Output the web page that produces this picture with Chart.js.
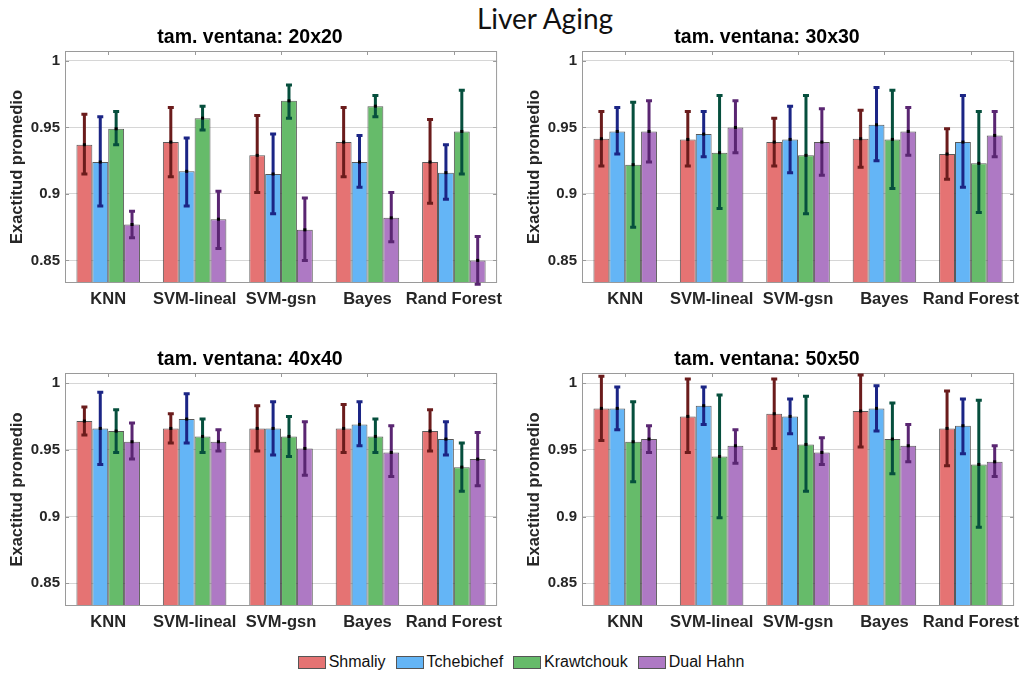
<!DOCTYPE html>
<html>
<head>
<meta charset="utf-8">
<script src="https://cdn.jsdelivr.net/npm/chart.js@4.4.1/dist/chart.umd.min.js"></script>
<style>
  body { margin: 0; background: #fff; width: 1029px; height: 673px; position: relative; overflow: hidden; }
  canvas { position: absolute; }
  #title { position: absolute; left: 0; top: 1px; width: 1090px; text-align: center; font-family: Lato, "Open Sans", sans-serif; font-size: 28px; color: #111; }
  #legend { position: absolute; left: 0; top: 653px; width: 1042px; display: flex; justify-content: center; gap: 10px; font-family: "Liberation Sans", Arial, sans-serif; font-size: 16px; color: #111; }
  .item { display: flex; align-items: center; gap: 3px; }
  .box { width: 26px; height: 11px; border: 1px solid #555; }
</style>
</head>
<body>
<div id="title">Liver Aging</div>
<canvas id="c20" width="510" height="299" style="left:0;top:24px"></canvas>
<canvas id="c30" width="510" height="299" style="left:517px;top:24px"></canvas>
<canvas id="c40" width="510" height="300" style="left:0;top:346px"></canvas>
<canvas id="c50" width="510" height="300" style="left:517px;top:346px"></canvas>
<div id="legend"></div>
<script>
const categories = ['KNN', 'SVM-lineal', 'SVM-gsn', 'Bayes', 'Rand Forest'];
const seriesNames = ['Shmaliy', 'Tchebichef', 'Krawtchouk', 'Dual Hahn'];
const yTicks = [0.85, 0.9, 0.95, 1];

// rows: Shmaliy, Tchebichef, Krawtchouk, Dual Hahn
const mean20 = [
  [0.937, 0.939, 0.929, 0.939, 0.924],
  [0.924, 0.917, 0.915, 0.924, 0.916],
  [0.949, 0.957, 0.970, 0.966, 0.947],
  [0.877, 0.881, 0.873, 0.882, 0.850]
];
const low20 = [
  [0.915, 0.913, 0.901, 0.913, 0.893],
  [0.891, 0.891, 0.885, 0.905, 0.896],
  [0.937, 0.948, 0.957, 0.958, 0.915],
  [0.867, 0.859, 0.850, 0.864, 0.832]
];
const high20 = [
  [0.960, 0.965, 0.959, 0.965, 0.956],
  [0.958, 0.942, 0.945, 0.944, 0.937],
  [0.962, 0.966, 0.982, 0.974, 0.978],
  [0.887, 0.902, 0.897, 0.901, 0.868]
];

const mean30 = [
  [0.9415, 0.941, 0.939, 0.9415, 0.930],
  [0.947, 0.945, 0.941, 0.952, 0.939],
  [0.922, 0.931, 0.929, 0.941, 0.923],
  [0.947, 0.950, 0.939, 0.947, 0.944]
];
const low30 = [
  [0.921, 0.921, 0.921, 0.920, 0.911],
  [0.930, 0.928, 0.916, 0.925, 0.905],
  [0.875, 0.889, 0.885, 0.904, 0.886],
  [0.924, 0.931, 0.914, 0.929, 0.928]
];
const high30 = [
  [0.962, 0.962, 0.957, 0.963, 0.949],
  [0.965, 0.962, 0.966, 0.980, 0.974],
  [0.969, 0.974, 0.974, 0.978, 0.962],
  [0.970, 0.970, 0.964, 0.965, 0.962]
];

const mean40 = [
  [0.9715, 0.966, 0.966, 0.966, 0.964],
  [0.966, 0.973, 0.966, 0.969, 0.958],
  [0.964, 0.960, 0.960, 0.960, 0.937],
  [0.956, 0.956, 0.951, 0.948, 0.943]
];
const low40 = [
  [0.961, 0.955, 0.949, 0.948, 0.949],
  [0.939, 0.955, 0.946, 0.953, 0.946],
  [0.948, 0.948, 0.945, 0.948, 0.919],
  [0.943, 0.949, 0.931, 0.930, 0.923]
];
const high40 = [
  [0.982, 0.977, 0.983, 0.984, 0.980],
  [0.993, 0.992, 0.986, 0.986, 0.971],
  [0.980, 0.973, 0.975, 0.973, 0.955],
  [0.970, 0.965, 0.971, 0.968, 0.963]
];

const mean50 = [
  [0.981, 0.975, 0.977, 0.979, 0.966],
  [0.981, 0.983, 0.975, 0.981, 0.968],
  [0.956, 0.945, 0.954, 0.958, 0.939],
  [0.958, 0.953, 0.948, 0.953, 0.941]
];
const low50 = [
  [0.957, 0.948, 0.951, 0.952, 0.938],
  [0.965, 0.969, 0.962, 0.964, 0.947],
  [0.926, 0.899, 0.919, 0.932, 0.892],
  [0.948, 0.940, 0.939, 0.941, 0.930]
];
const high50 = [
  [1.005, 1.003, 1.003, 1.006, 0.994],
  [0.997, 0.997, 0.988, 0.998, 0.988],
  [0.986, 0.991, 0.990, 0.985, 0.987],
  [0.968, 0.965, 0.959, 0.969, 0.953]
];

const barColors = ['rgb(229,115,115)', 'rgb(100,181,246)', 'rgb(102,187,106)', 'rgb(174,121,196)'];
const errColors = ['#6b1c1c', '#1b2585', '#064f3d', '#5a2672'];
const textColor = '#262626';
const fontFamily = '"Liberation Sans", Arial, sans-serif';

/* frame, inner ticks and error bars */

const frame = {
  id: 'frame',
  afterDatasetsDraw(chart) {
    const ctx = chart.ctx;
    const a = chart.chartArea;
    ctx.save();
    ctx.strokeStyle = '#9a9a9a';
    ctx.lineWidth = 1;
    ctx.strokeRect(a.left + 0.5, a.top + 0.5, a.right - a.left - 1, a.bottom - a.top - 1);
    ctx.beginPath();
    chart.scales.x.ticks.forEach((t, i) => {
      const x = Math.round(chart.scales.x.getPixelForTick(i)) + 0.5;
      ctx.moveTo(x, a.top); ctx.lineTo(x, a.top + 4);
    });
    chart.scales.y.ticks.forEach(t => {
      const y = Math.round(chart.scales.y.getPixelForValue(t.value)) + 0.5;
      ctx.moveTo(a.left, y); ctx.lineTo(a.left + 4, y);
      ctx.moveTo(a.right, y); ctx.lineTo(a.right - 4, y);
    });
    ctx.stroke();
    ctx.restore();
  }
};

const errorBars = {
  id: 'errorBars',
  afterDatasetsDraw(chart) {
    const ctx = chart.ctx;
    const yScale = chart.scales.y;
    chart.data.datasets.forEach((ds, i) => {
      const meta = chart.getDatasetMeta(i);
      meta.data.forEach((bar, j) => {
        const top = yScale.getPixelForValue(ds.errHigh[j]);
        const bot = yScale.getPixelForValue(ds.errLow[j]);
        ctx.save();
        ctx.strokeStyle = ds.errColor;
        ctx.lineWidth = 3;
        ctx.beginPath();
        ctx.moveTo(bar.x, top); ctx.lineTo(bar.x, bot);
        ctx.moveTo(bar.x - 3, top); ctx.lineTo(bar.x + 3, top);
        ctx.moveTo(bar.x - 3, bot); ctx.lineTo(bar.x + 3, bot);
        ctx.stroke();
        ctx.fillStyle = '#000';
        ctx.fillRect(bar.x - 1.5, bar.y - 1.5, 3, 3);
        ctx.restore();
      });
    });
  }
};

function makeChart(id, title, means, lows, highs) {
  const datasets = seriesNames.map((name, i) => ({
    label: name,
    data: means[i],
    errLow: lows[i],
    errHigh: highs[i],
    errColor: errColors[i],
    backgroundColor: barColors[i],
    borderColor: 'rgba(60,60,60,0.85)',
    borderWidth: 1,
    categoryPercentage: 0.735,
    barPercentage: 1
  }));

  new Chart(document.getElementById(id), {
    type: 'bar',
    data: { labels: categories, datasets: datasets },
    plugins: [frame, errorBars],
    options: {
      responsive: false,
      animation: false,
      layout: { padding: { left: 0, right: 10, top: 0, bottom: 0 } },
      plugins: {
        legend: { display: false },
        tooltip: { enabled: false },
        title: {
          display: true,
          text: title,
          color: '#000',
          font: { family: fontFamily, size: 19.5, weight: 'bold', lineHeight: 1 },
          padding: { top: 4, bottom: 3.5 }
        }
      },
      scales: {
        x: {
          grid: { display: false, drawTicks: false },
          border: { display: false },
          ticks: {
            padding: 7,
            color: textColor,
            autoSkip: false,
            maxRotation: 0,
            font: { family: fontFamily, size: 16.5, weight: 'bold' }
          },
          afterFit: s => { s.height = 40; }
        },
        y: {
          min: 0.833,
          max: 1.0075,
          afterBuildTicks: s => { s.ticks = yTicks.map(v => ({ value: v })); },
          afterFit: s => { s.width = 65; },
          grid: { color: '#d6d6d6', drawTicks: false },
          border: { display: false },
          ticks: {
            padding: 5,
            color: textColor,
            font: { family: fontFamily, size: 15, weight: 'bold' },
            callback: v => String(v)
          },
          title: {
            display: true,
            text: 'Exactitud promedio',
            color: textColor,
            font: { family: fontFamily, size: 16.5, weight: 'bold' },
            padding: { top: 8, bottom: 0 }
          }
        }
      }
    }
  });
}

makeChart('c20', 'tam. ventana: 20x20', mean20, low20, high20);
makeChart('c30', 'tam. ventana: 30x30', mean30, low30, high30);
makeChart('c40', 'tam. ventana: 40x40', mean40, low40, high40);
makeChart('c50', 'tam. ventana: 50x50', mean50, low50, high50);

/* legend */

const legend = document.getElementById('legend');
seriesNames.forEach((name, i) => {
  const el = document.createElement('div');
  el.classList.add('item');
  el.innerHTML = `<span class="box" style="background:${barColors[i]}"></span><span>${name}</span>`;
  legend.append(el);
});
</script>
</body>
</html>
